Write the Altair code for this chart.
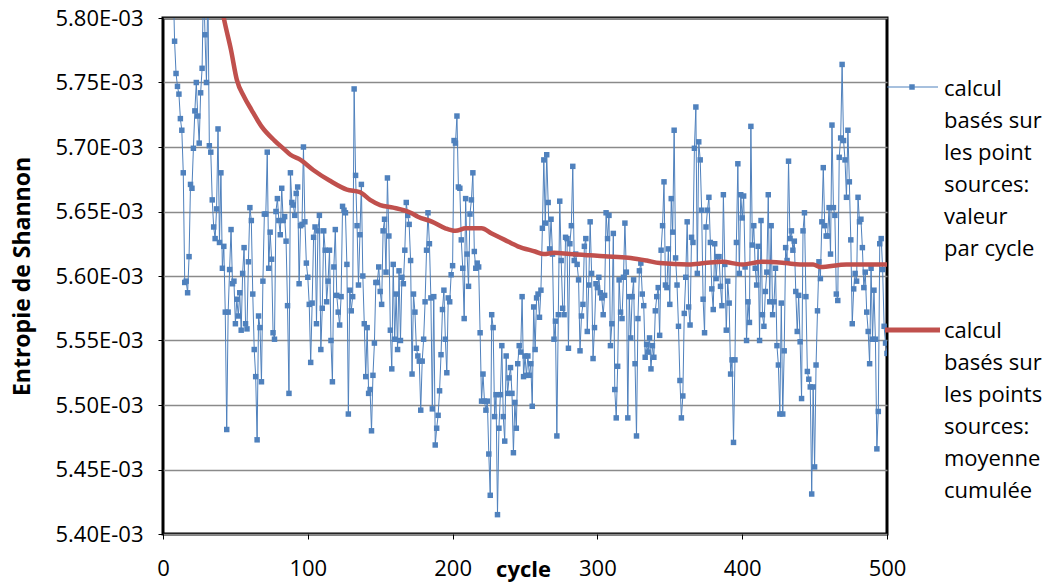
import altair as alt
import pandas as pd

# ---- Série bleue : calcul par cycle (valeurs en unités de 1E-03), cycles 1..500 ----
seg_debut = [6.90, 6.45, 6.20, 6.02, 5.93, 5.87, 5.83,
             5.782, 5.757, 5.747, 5.741, 5.722, 5.713, 5.680, 5.595, 5.596, 5.587,
             5.615, 5.671, 5.668, 5.699, 5.728, 5.750, 5.724, 5.703, 5.742, 5.761,
             5.830, 5.787, 5.750, 5.825, 5.701, 5.696, 5.659, 5.638, 5.629, 5.652,
             5.714, 5.626, 5.680, 5.606, 5.623, 5.572, 5.481]
seg_045 = [5.572, 5.605, 5.636, 5.594, 5.596, 5.563, 5.582, 5.569, 5.587, 5.558,
           5.602, 5.622, 5.563, 5.559, 5.611, 5.653, 5.643, 5.586, 5.543, 5.522,
           5.473, 5.569, 5.560, 5.518, 5.596, 5.648, 5.648, 5.696, 5.606, 5.634,
           5.613, 5.556, 5.551, 5.650, 5.660, 5.643, 5.632, 5.668, 5.643, 5.646,
           5.627, 5.577, 5.509, 5.680]
seg_089 = [5.657, 5.655, 5.647, 5.664, 5.669, 5.594, 5.639, 5.640, 5.700, 5.642,
           5.610, 5.599, 5.578, 5.533, 5.579, 5.630, 5.638, 5.563, 5.635, 5.647,
           5.543, 5.575, 5.635, 5.620, 5.580, 5.596, 5.620, 5.550, 5.518, 5.607,
           5.636, 5.585, 5.572, 5.562, 5.584, 5.654, 5.651, 5.649, 5.609, 5.493,
           5.589, 5.573, 5.584, 5.745, 5.678, 5.639, 5.593, 5.632, 5.671, 5.600,
           5.563, 5.522, 5.560, 5.509, 5.512, 5.480, 5.523, 5.548, 5.595, 5.595,
           5.607, 5.588, 5.578, 5.635, 5.644, 5.603, 5.676, 5.631, 5.558, 5.528,
           5.609, 5.551, 5.586, 5.543, 5.604, 5.550, 5.599, 5.594, 5.620, 5.657,
           5.647]
seg_170 = [5.640, 5.612, 5.524, 5.586, 5.572, 5.544, 5.538, 5.534, 5.496, 5.534,
           5.551, 5.580, 5.620, 5.649, 5.625, 5.583, 5.497, 5.584, 5.469, 5.482,
           5.492, 5.511, 5.539, 5.574, 5.589, 5.551, 5.525, 5.583, 5.580, 5.601,
           5.608, 5.705, 5.703, 5.724, 5.669, 5.668, 5.628, 5.606, 5.567, 5.660,
           5.617, 5.592, 5.648, 5.659, 5.680, 5.619, 5.606, 5.610, 5.607, 5.556,
           5.503, 5.524, 5.503, 5.496, 5.503, 5.462, 5.430, 5.570, 5.560, 5.491,
           5.508, 5.415, 5.482, 5.508, 5.546, 5.491, 5.472, 5.538, 5.509, 5.521,
           5.529, 5.509, 5.463, 5.502, 5.482, 5.532, 5.546, 5.541, 5.584, 5.522,
           5.538, 5.523, 5.538, 5.523, 5.532, 5.499, 5.576]
seg_257 = [5.543, 5.583, 5.586, 5.568, 5.589, 5.637, 5.690, 5.641, 5.694, 5.657,
           5.621, 5.644, 5.617, 5.551, 5.565, 5.476, 5.570, 5.658, 5.612, 5.575,
           5.570, 5.630, 5.629, 5.544, 5.625, 5.639, 5.685, 5.612, 5.617, 5.609,
           5.597, 5.542, 5.569, 5.578, 5.623, 5.629, 5.557, 5.593, 5.642, 5.602,
           5.536, 5.560, 5.594, 5.591, 5.599, 5.587, 5.583, 5.570, 5.585, 5.649,
           5.629, 5.647, 5.546, 5.563, 5.633, 5.512, 5.490, 5.530, 5.597, 5.572,
           5.567, 5.599, 5.641, 5.603, 5.490, 5.584, 5.552, 5.584, 5.597, 5.532,
           5.476, 5.567, 5.604, 5.610, 5.586, 5.577, 5.537, 5.547, 5.541, 5.552,
           5.528, 5.546, 5.537, 5.573, 5.584]
seg_342 = [5.591, 5.554, 5.620, 5.639, 5.673, 5.593, 5.591, 5.621, 5.578, 5.660,
           5.634, 5.713, 5.614, 5.593, 5.561, 5.519, 5.490, 5.507, 5.571, 5.599,
           5.642, 5.576, 5.562, 5.630, 5.626, 5.699, 5.731, 5.602, 5.704, 5.690,
           5.651, 5.582, 5.556, 5.638, 5.651, 5.661, 5.626, 5.590, 5.574, 5.625,
           5.598, 5.615, 5.615, 5.592, 5.577, 5.663, 5.609, 5.558, 5.596, 5.579,
           5.524, 5.535, 5.471, 5.535, 5.626, 5.687, 5.602, 5.663, 5.645, 5.662,
           5.607, 5.550, 5.580, 5.564, 5.716, 5.624, 5.639, 5.606, 5.593, 5.623,
           5.550, 5.643, 5.570, 5.561, 5.588, 5.603, 5.663, 5.580, 5.639, 5.570,
           5.580, 5.606, 5.546, 5.531, 5.493, 5.579]
seg_428 = [5.493, 5.542, 5.622, 5.612, 5.689, 5.629, 5.635, 5.620, 5.627, 5.588,
           5.557, 5.585, 5.549, 5.505, 5.635, 5.649, 5.584, 5.526, 5.520, 5.514,
           5.431, 5.514, 5.452, 5.531, 5.573, 5.611, 5.598, 5.642, 5.684, 5.639,
           5.631, 5.631, 5.653, 5.617, 5.717, 5.653, 5.647, 5.586, 5.581, 5.692,
           5.707, 5.764, 5.705, 5.690, 5.661, 5.713, 5.673, 5.628, 5.563, 5.590,
           5.602, 5.596, 5.661, 5.642, 5.644, 5.622, 5.591, 5.603, 5.572, 5.557,
           5.532, 5.606, 5.551, 5.589, 5.551, 5.466, 5.495, 5.625, 5.629, 5.605,
           5.561, 5.548, 5.540]

valeur_par_cycle_e3 = seg_debut + seg_045 + seg_089 + seg_170 + seg_257 + seg_342 + seg_428
cycles = list(range(1, len(valeur_par_cycle_e3) + 1))

# ---- Série rouge : moyenne cumulée ----
moyenne_cycles = [1, 10, 20, 28, 34, 38, 42, 47, 51, 56, 61, 68, 77, 84, 88, 95, 104,
                  115, 127, 136, 143, 150, 159, 171, 176, 186, 195, 202, 209, 220,
                  227, 236, 245, 257, 263, 270, 281, 295, 311, 323, 334, 343, 363,
                  374, 386, 400, 414, 430, 440, 449, 454, 472, 486, 500]
moyenne_e3 = [6.80, 6.20, 6.00, 5.91, 5.855, 5.825, 5.800, 5.775, 5.752, 5.739,
              5.729, 5.716, 5.705, 5.698, 5.694, 5.690, 5.682, 5.674, 5.667, 5.665,
              5.659, 5.655, 5.653, 5.649, 5.646, 5.642, 5.637, 5.635, 5.637, 5.637,
              5.633, 5.628, 5.623, 5.619, 5.617, 5.618, 5.617, 5.616, 5.615, 5.614,
              5.612, 5.610, 5.609, 5.610, 5.611, 5.609, 5.611, 5.610, 5.609, 5.609,
              5.607, 5.609, 5.609, 5.609]

noms_series = ["calcul\nbasés sur\nles point\nsources:\nvaleur\npar cycle",
               "calcul\nbasés sur\nles points\nsources:\nmoyenne\ncumulée"]

y_ticks = [0.00540, 0.00545, 0.00550, 0.00555, 0.00560, 0.00565, 0.00570, 0.00575, 0.00580]
x_ticks = [0, 100, 200, 300, 400, 500]

BLEU = "#4F81BD"
ROUGE = "#C0504D"
FONT = "Open Sans"

df = pd.DataFrame({"cycle": cycles, "valeur": [v * 1e-3 for v in valeur_par_cycle_e3]})
df_moy = pd.DataFrame({"cycle": moyenne_cycles, "valeur": [v * 1e-3 for v in moyenne_e3]})

x_enc = alt.X("cycle:Q", scale=alt.Scale(domain=[0, 500], nice=False, zero=False),
              axis=alt.Axis(values=x_ticks, grid=False, domain=False, tickSize=5,
                            tickColor="black", labelPadding=19, labelFlush=False,
                            labelOverlap=False, title="cycle", titleX=360, titleY=42,
                            titleBaseline="alphabetic", titleAlign="center",
                            titleFontSize=22))
y_enc = alt.Y("valeur:Q", scale=alt.Scale(domain=[0.0054, 0.0058], nice=False, zero=False),
              axis=alt.Axis(values=y_ticks, grid=True, gridColor="#8a8a8a", gridWidth=1.3,
                            domain=False, tickSize=5, tickColor="black", labelPadding=15,
                            labelOverlap=False,
                            labelExpr="format(datum.value * 1000, '.2f') + 'E-03'",
                            title="Entropie de Shannon", titleX=-141, titleY=258,
                            titleAngle=270, titleBaseline="middle", titleAlign="center",
                            titleFontSize=23))

ligne_bleue = alt.Chart(df).mark_line(color=BLEU, strokeWidth=1, clip=True).encode(x=x_enc, y=y_enc)
points_bleus = alt.Chart(df).mark_point(shape="square", filled=True, size=30, color=BLEU,
                                        opacity=1, clip=True).encode(x=x_enc, y=y_enc)
ligne_rouge = alt.Chart(df_moy).mark_line(color=ROUGE, strokeWidth=4.5, clip=True,
                                          interpolate="monotone").encode(x=x_enc, y=y_enc)

leg1 = pd.DataFrame({"nom": [noms_series[0]]})
leg2 = pd.DataFrame({"nom": [noms_series[1]]})

leg1_ligne = alt.Chart(leg1).mark_rule(color=BLEU, strokeWidth=1).encode(
    x=alt.value(724), x2=alt.value(775), y=alt.value(69))
leg1_point = alt.Chart(leg1).mark_point(shape="square", filled=True, size=30, color=BLEU,
                                        opacity=1).encode(x=alt.value(749), y=alt.value(69))
leg1_texte = alt.Chart(leg1).mark_text(align="left", baseline="top", lineBreak="\n",
                                       lineHeight=32, fontSize=22, font=FONT,
                                       color="black").encode(
    x=alt.value(781), y=alt.value(61), text="nom:N")
leg2_ligne = alt.Chart(leg2).mark_rule(color=ROUGE, strokeWidth=5).encode(
    x=alt.value(722), x2=alt.value(777), y=alt.value(312))
leg2_texte = alt.Chart(leg2).mark_text(align="left", baseline="top", lineBreak="\n",
                                       lineHeight=32, fontSize=22, font=FONT,
                                       color="black").encode(
    x=alt.value(781), y=alt.value(303), text="nom:N")

chart = alt.layer(
    ligne_bleue, points_bleus, ligne_rouge,
    leg1_ligne, leg1_point, leg1_texte, leg2_ligne, leg2_texte
).properties(
    width=724, height=516,
    autosize=alt.AutoSizeParams(type="none"),
    padding={"left": 163, "top": 18, "right": 166, "bottom": 51},
    background="white",
).configure_view(
    stroke="black", strokeWidth=3
).configure_axis(
    labelFont=FONT, labelFontSize=22, labelColor="black",
    titleFont=FONT, titleFontWeight="bold", titleColor="black"
)

chart.save("out.html", embed_options={"renderer": "svg", "actions": False})
